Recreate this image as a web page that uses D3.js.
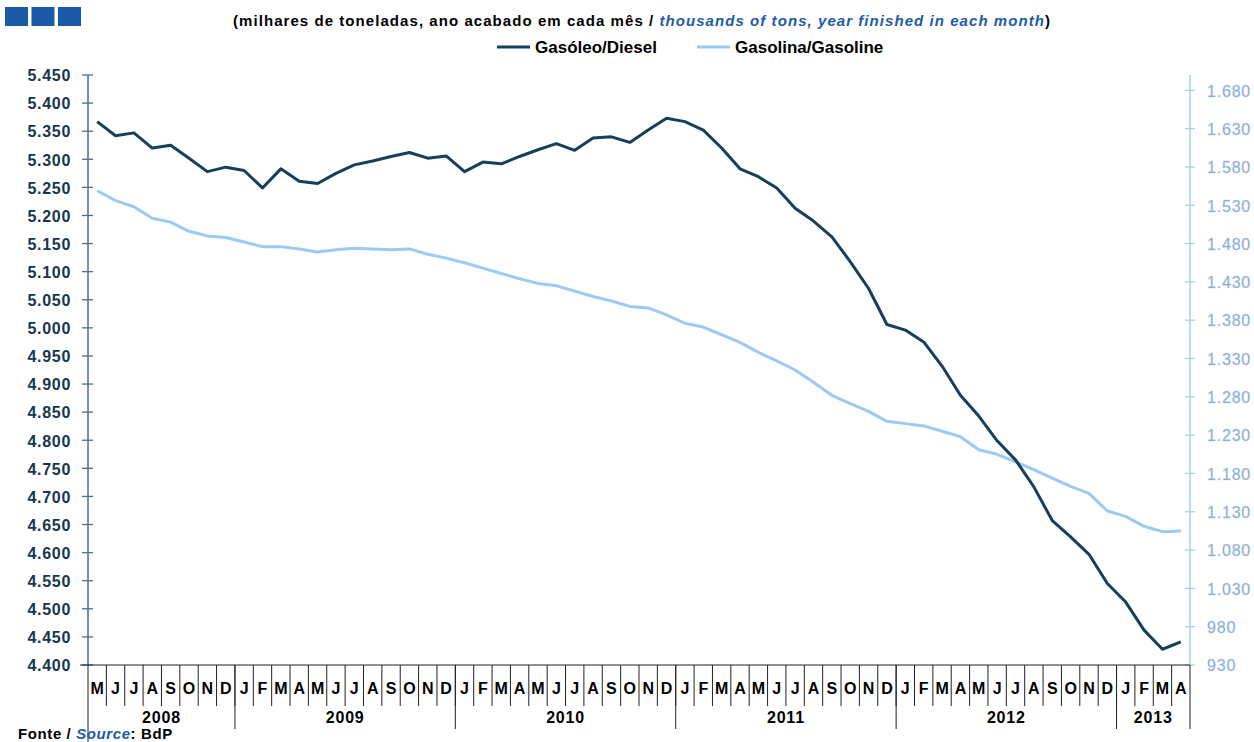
<!DOCTYPE html>
<html>
<head>
<meta charset="utf-8">
<script src="https://cdn.jsdelivr.net/npm/d3@7"></script>
<style>
    body { margin: 0; background: #fff; }
    svg { font-family: "Liberation Sans", Arial, sans-serif; }
    .month-label { font-weight: bold; font-size: 16px; fill: #000; }
    .year-label { font-weight: bold; font-size: 16px; fill: #000; letter-spacing: 0.8px; }
    .left-label { font-weight: bold; font-size: 16px; fill: #17364f; letter-spacing: 0.7px; }
    .right-label { font-size: 16px; fill: #7f9fc6; stroke: #b7d3ef; stroke-width: 0.4px; letter-spacing: 0.8px; }
</style>
</head>
<body>
<div id="chart"></div>
<script>
// months May 2008 .. April 2013
const monthLetters = ["M","J","J","A","S","O","N","D",
    "J","F","M","A","M","J","J","A","S","O","N","D",
    "J","F","M","A","M","J","J","A","S","O","N","D",
    "J","F","M","A","M","J","J","A","S","O","N","D",
    "J","F","M","A","M","J","J","A","S","O","N","D",
    "J","F","M","A"];
const years = ["2008", "2009", "2010", "2011", "2012", "2013"];
const monthsPerYear = [8, 12, 12, 12, 12, 4];

// thousands of tons, rolling year
const diesel = [5367, 5342, 5347, 5320, 5325, 5302, 5278, 5286,
    5280, 5249, 5283, 5261, 5257, 5275, 5290, 5297, 5305, 5312, 5302, 5306,
    5278, 5295, 5292, 5305, 5317, 5328, 5316, 5338, 5340, 5330, 5352, 5373,
    5367, 5352, 5320, 5283, 5269, 5249, 5213, 5190, 5162, 5118, 5070, 5006,
    4996, 4975, 4932, 4880, 4843, 4799, 4765, 4717, 4657, 4628, 4597, 4545,
    4512, 4462, 4428, 4441];
const gasoline = [1549, 1536, 1528, 1513, 1508, 1496, 1490, 1488,
    1482, 1476, 1476, 1473, 1469, 1472, 1474, 1473, 1472, 1473, 1466, 1461,
    1455, 1448, 1441, 1434, 1428, 1425, 1418, 1411, 1405, 1398, 1396, 1387,
    1376, 1371, 1361, 1351, 1338, 1327, 1315, 1299, 1282, 1271, 1261, 1248,
    1245, 1242, 1235, 1228, 1211, 1205, 1195, 1185, 1174, 1163, 1154, 1131,
    1124, 1111, 1104, 1105];

const leftTicks = d3.range(4400, 5451, 50);
const rightTicks = d3.range(930, 1681, 50);

const width = 1254, height = 742;
const plotLeft = 88, plotRight = 1190, plotTop = 75, plotBottom = 665;

const ptFormat = d3.formatLocale({ decimal: ",", thousands: ".", grouping: [3], currency: ["", "€"] }).format(",d");

const svg = d3.select("#chart").append("svg")
    .attr("width", width)
    .attr("height", height);

const x = d3.scaleBand()
    .domain(d3.range(monthLetters.length))
    .range([plotLeft, plotRight]);

const yLeft = d3.scaleLinear()
    .domain([4400, 5450])
    .range([plotBottom, plotTop]);

const yRight = d3.scaleLinear()
    .domain([930, 1700])
    .range([plotBottom, plotTop]);

// header squares
svg.append("g").selectAll("rect")
    .data([0, 1, 2])
    .join("rect")
    .attr("x", d => 5 + d * 26.5)
    .attr("y", 7)
    .attr("width", 23)
    .attr("height", 19)
    .attr("fill", "#1a5aa6");

// subtitle
const sub = svg.append("text")
    .attr("x", 233)
    .attr("y", 26)
    .attr("textLength", 817)
    .attr("lengthAdjust", "spacing")
    .style("font-size", "15px")
    .style("font-weight", "bold");
sub.append("tspan").text("(milhares de toneladas, ano acabado em cada mês / ");
sub.append("tspan").attr("fill", "#1d5ca4").style("font-style", "italic").text("thousands of tons, year finished in each month");
sub.append("tspan").text(")");

// legend
const legendItems = [
    { label: "Gasóleo/Diesel", color: "#173f5c", x: 497 },
    { label: "Gasolina/Gasoline", color: "#9ccaf4", x: 697 }
];
const legend = svg.append("g").selectAll("g")
    .data(legendItems)
    .join("g")
    .attr("transform", d => `translate(${d.x}, 47)`);
legend.append("line")
    .attr("x1", 0).attr("x2", 33)
    .attr("stroke", d => d.color)
    .attr("stroke-width", 3);
legend.append("text")
    .attr("x", 38)
    .attr("y", 6)
    .style("font-size", "17px")
    .style("font-weight", "bold")
    .text(d => d.label);

// left axis
const leftAxis = svg.append("g")
    .attr("transform", `translate(${plotLeft}, 0)`)
    .call(d3.axisLeft(yLeft).tickValues(leftTicks).tickFormat(ptFormat).tickSize(0).tickPadding(17));
leftAxis.select(".domain").remove();
leftAxis.selectAll("text").attr("class", "left-label").attr("fill", null).attr("dy", "0.36em");
svg.append("g").selectAll("line")
    .data(leftTicks)
    .join("line")
    .attr("x1", plotLeft - 6).attr("x2", plotLeft + 5)
    .attr("y1", d => yLeft(d)).attr("y2", d => yLeft(d))
    .attr("stroke", "#4b6f8c").attr("stroke-width", 1.3);
svg.append("line")
    .attr("x1", plotLeft).attr("x2", plotLeft)
    .attr("y1", plotTop).attr("y2", plotBottom)
    .attr("stroke", "#4b6f8c").attr("stroke-width", 1.5);

// right axis
const rightAxis = svg.append("g")
    .attr("transform", `translate(${plotRight}, 0)`)
    .call(d3.axisRight(yRight).tickValues(rightTicks).tickFormat(ptFormat).tickSize(0).tickPadding(17));
rightAxis.select(".domain").remove();
rightAxis.selectAll("text").attr("class", "right-label").attr("fill", null).attr("dy", "0.36em");
svg.append("g").selectAll("line")
    .data(rightTicks)
    .join("line")
    .attr("x1", plotRight - 5).attr("x2", plotRight + 5)
    .attr("y1", d => yRight(d)).attr("y2", d => yRight(d))
    .attr("stroke", "#a9cdf0").attr("stroke-width", 1.3);
svg.append("line")
    .attr("x1", plotRight).attr("x2", plotRight)
    .attr("y1", plotTop).attr("y2", plotBottom)
    .attr("stroke", "#a9cdf0").attr("stroke-width", 1.5);

// category axis
const bottomG = svg.append("g");
bottomG.append("line")
    .attr("x1", plotLeft - 8).attr("x2", plotRight)
    .attr("y1", plotBottom).attr("y2", plotBottom)
    .attr("stroke", "#222").attr("stroke-width", 1.2);
bottomG.selectAll(".month-sep")
    .data(d3.range(1, monthLetters.length))
    .join("line")
    .attr("class", "month-sep")
    .attr("x1", d => x(d)).attr("x2", d => x(d))
    .attr("y1", plotBottom).attr("y2", 706)
    .attr("stroke", "#222").attr("stroke-width", 1);
bottomG.selectAll(".month-label")
    .data(monthLetters)
    .join("text")
    .attr("class", "month-label")
    .attr("x", (d, i) => x(i) + x.bandwidth() / 2)
    .attr("y", 694)
    .attr("text-anchor", "middle")
    .text(d => d);

let yearStart = [];
monthsPerYear.reduce((acc, n) => { yearStart.push(acc); return acc + n; }, 0);

bottomG.selectAll(".year-sep")
    .data(yearStart.slice(1).concat([monthLetters.length]))
    .join("line")
    .attr("class", "year-sep")
    .attr("x1", d => d === monthLetters.length ? plotRight : x(d))
    .attr("x2", d => d === monthLetters.length ? plotRight : x(d))
    .attr("y1", plotBottom).attr("y2", 729)
    .attr("stroke", "#222").attr("stroke-width", 1);
bottomG.append("line")
    .attr("x1", plotLeft).attr("x2", plotLeft)
    .attr("y1", plotBottom).attr("y2", 742)
    .attr("stroke", "#222").attr("stroke-width", 1);
bottomG.selectAll(".year-label")
    .data(years)
    .join("text")
    .attr("class", "year-label")
    .attr("x", (d, i) => {
        const a = x(yearStart[i]);
        const b = yearStart[i] + monthsPerYear[i] >= monthLetters.length ? plotRight : x(yearStart[i] + monthsPerYear[i]);
        return (a + b) / 2;
    })
    .attr("y", 723)
    .attr("text-anchor", "middle")
    .text(d => d);

// lines
const lineLeft = d3.line()
    .x((d, i) => x(i) + x.bandwidth() / 2)
    .y(d => yLeft(d));
const lineRight = d3.line()
    .x((d, i) => x(i) + x.bandwidth() / 2)
    .y(d => yRight(d));

svg.append("path")
    .datum(gasoline)
    .attr("d", lineRight)
    .attr("fill", "none")
    .attr("stroke", "#9ccaf4")
    .attr("stroke-width", 3)
    .attr("stroke-linejoin", "round");

svg.append("path")
    .datum(diesel)
    .attr("d", lineLeft)
    .attr("fill", "none")
    .attr("stroke", "#173f5c")
    .attr("stroke-width", 3)
    .attr("stroke-linejoin", "round");

// source
const src = svg.append("text")
    .attr("x", 18)
    .attr("y", 739)
    .style("font-size", "15px")
    .style("font-weight", "bold")
    .style("letter-spacing", "0.6px");
src.append("tspan").text("Fonte / ");
src.append("tspan").attr("fill", "#1d5ca4").style("font-style", "italic").text("Source");
src.append("tspan").text(": BdP");
</script>
</body>
</html>
